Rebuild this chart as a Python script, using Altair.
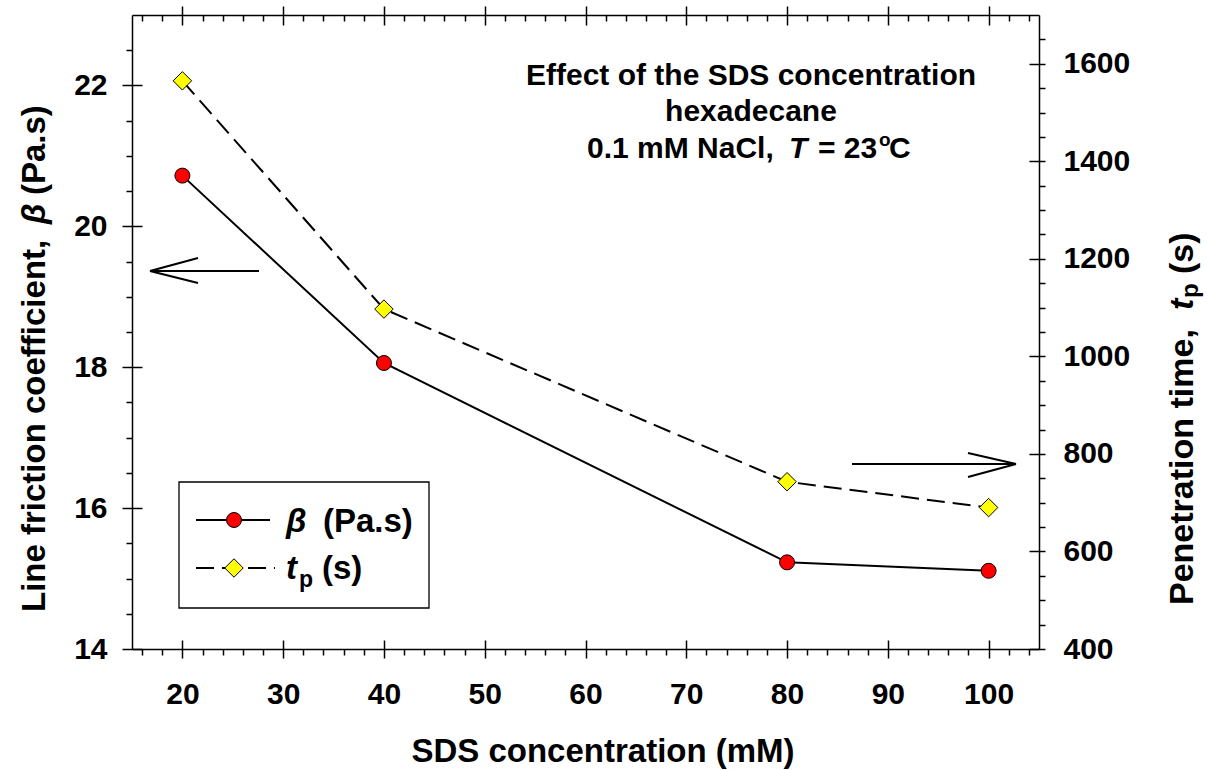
import altair as alt
import pandas as pd

# ---- data ----
sds_mM = [20, 40, 80, 100]
beta_pas = [20.72, 18.06, 15.23, 15.11]
tp_s = [1565, 1097, 743, 690]

x_major = [20, 30, 40, 50, 60, 70, 80, 90, 100]
x_minor = [v for v in range(16, 105, 2) if v % 10]
yl_major = [14, 16, 18, 20, 22]
yl_minor = [14 + 0.5 * i for i in range(1, 18) if (14 + 0.5 * i) not in yl_major]
yr_major = [400, 600, 800, 1000, 1200, 1400, 1600]
yr_minor = [v for v in range(450, 1700, 50) if v % 200]

XD = [15, 105]
YLD = [14, 23]
YRD = [400, 1700]

FONT = "Liberation Sans"
NB = "\u00a0"

df = pd.DataFrame({"sds": sds_mM, "beta": beta_pas, "tp": tp_s})
one = alt.Data(values=[{"a": 1}])


def xe(axis):
    return alt.X("sds:Q", scale=alt.Scale(domain=XD, nice=False, zero=False), axis=axis)


def yle(axis):
    return alt.Y("beta:Q", scale=alt.Scale(domain=YLD, nice=False, zero=False), axis=axis)


def yre(axis):
    return alt.Y("tp:Q", scale=alt.Scale(domain=YRD, nice=False, zero=False), axis=axis)


def ax(orient, values, size, offset=0, labels=False, domain=False, lp=0):
    kw = dict(orient=orient, values=values, tickSize=size, labels=labels,
              domain=domain, title=None, grid=False, offset=offset)
    if labels:
        kw.update(labelPadding=lp, format="d", labelFontSize=30,
                  labelFont=FONT, labelFontWeight="bold", labelColor="black")
    return alt.Axis(**kw)


base = alt.Chart(df)

beta_line = base.mark_line(color="black", strokeWidth=2).encode(
    x=xe(ax("bottom", x_major, 9, labels=True, domain=True, lp=21)),
    y=yle(ax("left", yl_major, 10, labels=True, domain=True, lp=15)),
)
beta_ax2 = base.mark_point(opacity=0).encode(
    x=xe(ax("bottom", x_major, 9, offset=-9)),
    y=yle(ax("left", yl_major, 10, offset=-10)),
)
beta_ax3 = base.mark_point(opacity=0).encode(
    x=xe(ax("bottom", x_minor, 6)),
    y=yle(ax("left", yl_minor, 6)),
)
tp_line = base.mark_line(color="black", strokeWidth=2, strokeDash=[18, 8]).encode(
    x=xe(ax("top", x_major, 9, domain=True)),
    y=yre(ax("right", yr_major, 6, labels=True, domain=True, lp=18)),
)
tp_ax2 = base.mark_point(opacity=0).encode(
    x=xe(ax("top", x_major, 10, offset=-10)),
    y=yre(ax("right", yr_major, 10, offset=-10)),
)
tp_ax3 = base.mark_point(opacity=0).encode(
    x=xe(ax("top", x_minor, 6, offset=-6)),
    y=yre(ax("right", yr_minor, 6)),
)
beta_pts = base.mark_point(shape="circle", filled=True, fill="#ff0000", stroke="black",
                           strokeWidth=1, size=225, opacity=1).encode(
    x=xe(None), y=yle(None))
tp_pts = base.mark_point(shape="diamond", filled=True, fill="#ffff00", stroke="black",
                         strokeWidth=1, size=340, opacity=1).encode(
    x=xe(None), y=yre(None))


def txt(s, x, y, size, angle=0, align="left", baseline="alphabetic", style="normal"):
    return alt.Chart(one).mark_text(
        text=s, fontSize=size, font=FONT, fontWeight="bold", fontStyle=style,
        align=align, baseline=baseline, angle=angle, color="black",
    ).encode(x=alt.value(x), y=alt.value(y))


def seg(x1, y1, x2, y2, dash=None, w=2):
    kw = dict(color="black", strokeWidth=w)
    if dash:
        kw["strokeDash"] = dash
    return alt.Chart(one).mark_rule(**kw).encode(
        x=alt.value(x1), y=alt.value(y1), x2=alt.value(x2), y2=alt.value(y2))


texts = [
    # x title
    txt("SDS concentration (mM)", 471, 747, 33, align="center"),
    # left title
    txt("Line friction coefficient,", -97, 597, 33, angle=270, baseline="middle"),
    txt("\u03b2", -97, 209, 33, angle=270, baseline="middle", style="italic"),
    txt("(Pa.s)", -97, 180, 33, angle=270, baseline="middle"),
    # right title
    txt("Penetration time,", 1051, 590, 34, angle=270, baseline="middle"),
    txt("t", 1051, 295, 34, angle=270, baseline="middle", style="italic"),
    txt("p", 1059, 283, 24, angle=270, baseline="middle"),
    txt("(s)", 1051, 259, 34, angle=270, baseline="middle"),
    # annotation
    txt("Effect of the SDS concentration", 619, 70, 30, align="center"),
    txt("hexadecane", 619, 106, 30, align="center"),
    txt("0.1 mM NaCl,", 455, 143, 30),
    txt("T", 657, 143, 30, style="italic"),
    txt("=" + NB + "23", 686, 143, 30),
    txt("o", 747, 131, 19),
    txt("C", 757, 143, 30),
    # legend text
    txt("\u03b2", 154, 517, 33, style="italic"),
    txt("(Pa.s)", 191, 517, 33),
    txt("t", 154, 564, 33, style="italic"),
    txt("p", 167, 572, 23),
    txt("(s)", 190, 564, 33),
]

legend_box = alt.Chart(one).mark_rect(filled=False, stroke="black", strokeWidth=1.3).encode(
    x=alt.value(47), x2=alt.value(297), y=alt.value(467), y2=alt.value(593))
legend_items = [
    legend_box,
    seg(64, 505, 138, 505),
    seg(64, 553, 143, 553, dash=[18, 8]),
    alt.Chart(one).mark_point(shape="circle", filled=True, fill="#ff0000", stroke="black",
                              strokeWidth=1, size=225, opacity=1).encode(
        x=alt.value(102), y=alt.value(505)),
    alt.Chart(one).mark_point(shape="diamond", filled=True, fill="#ffff00", stroke="black",
                              strokeWidth=1, size=340, opacity=1).encode(
        x=alt.value(102), y=alt.value(553)),
]

arrows = [
    seg(18, 256, 127, 256),
    seg(18, 256, 66, 243),
    seg(18, 256, 66, 268),
    seg(720, 449, 884, 449),
    seg(884, 449, 836, 438),
    seg(884, 449, 836, 462),
]

chart = alt.layer(
    beta_line, beta_ax2, beta_ax3, tp_line, tp_ax2, tp_ax3,
    *arrows, *legend_items, beta_pts, tp_pts, *texts,
).resolve_scale(y="independent").resolve_axis(x="independent", y="independent").properties(
    width=907, height=634,
    autosize=alt.AutoSizeParams(type="none"),
    padding={"left": 132, "top": 15, "right": 168, "bottom": 121},
    background="white",
).configure_axis(
    grid=False, domainColor="black", tickColor="black", domainWidth=1.5, tickWidth=1.5,
).configure_view(stroke=None)

chart.save("out.html", embed_options={"renderer": "svg", "actions": False})
